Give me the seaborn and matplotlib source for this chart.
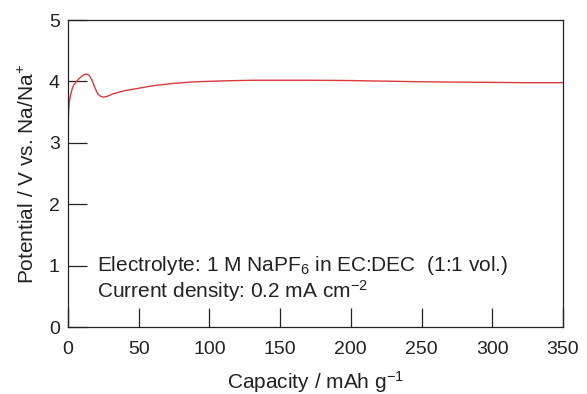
import matplotlib
matplotlib.use("Agg")
import matplotlib.pyplot as plt
import seaborn as sns
import pandas as pd

capacity = [0, 0.5, 1, 2, 3, 4, 6, 8, 10, 12, 13.5, 15, 17, 19, 21, 23, 25, 28, 32,
            40, 50, 60, 75, 90, 110, 130, 150, 175, 200, 225, 250, 275, 300, 325, 350]
potential = [3.25, 3.55, 3.68, 3.80, 3.88, 3.94, 4.00, 4.05, 4.09, 4.115, 4.12, 4.10,
             4.02, 3.90, 3.80, 3.76, 3.745, 3.76, 3.80, 3.85, 3.89, 3.93, 3.97, 3.995,
             4.01, 4.02, 4.02, 4.02, 4.015, 4.005, 3.995, 3.99, 3.985, 3.98, 3.98]
xticks = [0, 50, 100, 150, 200, 250, 300, 350]
yticks = [0, 1, 2, 3, 4, 5]

sns.set_style("ticks")
plt.rcParams['font.family'] = ['Liberation Sans', 'DejaVu Sans']
plt.rcParams['mathtext.fontset'] = 'custom'
plt.rcParams['mathtext.rm'] = 'Liberation Sans'
plt.rcParams['mathtext.it'] = 'Liberation Sans'

df = pd.DataFrame({"Capacity": capacity, "Potential": potential})

fig = plt.figure(figsize=(5.87, 3.94), dpi=100)
ax = fig.add_axes([0.1158, 0.170, 0.8432, 0.779])
sns.lineplot(data=df, x="Capacity", y="Potential", ax=ax, color="#d93a3a", linewidth=1.0)

ax.set_xlim(0, 350)
ax.set_ylim(0, 5)
ax.set_xticks(xticks)
ax.set_yticks(yticks)
ax.tick_params(direction='in', length=13.5, width=0.9, labelsize=14, colors='#222222')
ax.tick_params(axis='x', pad=10)
ax.tick_params(axis='y', pad=6)
for s in ax.spines.values():
    s.set_visible(True)
    s.set_linewidth(0.9)
    s.set_color('#222222')

ax.set_xlabel(r"Capacity / mAh g$^{\mathregular{-1}}$", fontsize=15, color='#222222', labelpad=8)
ax.set_ylabel(r"Potential / V vs. Na/Na$^{\mathregular{+}}$", fontsize=15, color='#222222', labelpad=8)

ax.text(20.5, 1.0, r"Electrolyte: 1 M NaPF$_{\mathregular{6}}$ in EC:DEC  (1:1 vol.)",
        fontsize=15, va='center', ha='left', color='#222222')
ax.text(20.5, 0.58, r"Current density: 0.2 mA cm$^{\mathregular{-2}}$",
        fontsize=15, va='center', ha='left', color='#222222')

fig.savefig("out.png", dpi=100)
